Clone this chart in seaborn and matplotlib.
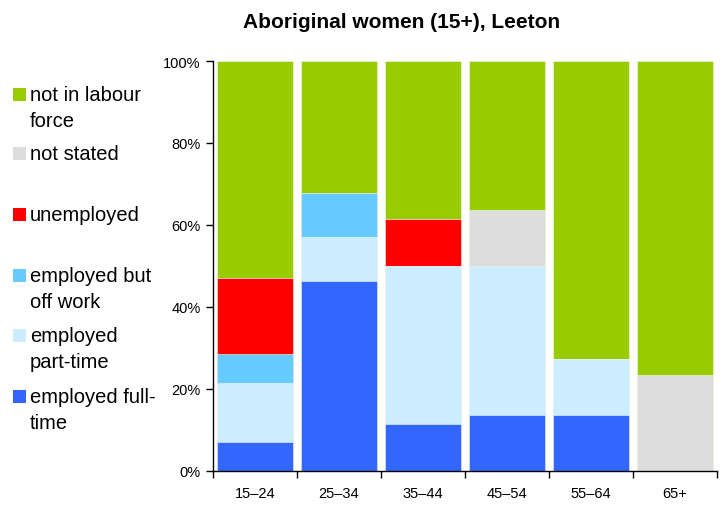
import matplotlib
matplotlib.use("Agg")
import matplotlib.pyplot as plt
from matplotlib.patches import Rectangle
import numpy as np
import pandas as pd
import seaborn as sns

sns.set_theme(style="white")
plt.rcParams['font.family'] = ['Liberation Sans', 'DejaVu Sans']

age_groups = ["15–24", "25–34", "35–44", "45–54", "55–64", "65+"]
series_names = ["employed full-time", "employed part-time", "employed but off work",
                "unemployed", "not stated", "not in labour force"]
legend_labels = ["not in labour\nforce", "not stated", "unemployed",
                 "employed but\noff work", "employed\npart-time", "employed full-\ntime"]
full_time   = [7.1, 46.4, 11.5, 13.6, 13.6, 0.0]
part_time   = [14.3, 10.7, 38.5, 36.4, 13.6, 0.0]
off_work    = [7.1, 10.7, 0.0, 0.0, 0.0, 0.0]
unemployed  = [18.6, 0.0, 11.5, 0.0, 0.0, 0.0]
not_stated  = [0.0, 0.0, 0.0, 13.6, 0.0, 23.3]
not_in_lf   = [52.9, 32.1, 38.5, 36.4, 72.7, 76.7]
colors = ["#3366FF", "#CCECFF", "#66CCFF", "#FF0000", "#DDDDDD", "#99CC00"]

values = np.array([full_time, part_time, off_work, unemployed, not_stated, not_in_lf])
cum = np.cumsum(values, axis=0)
cum = cum / cum[-1] * 100

fig = plt.figure(figsize=(7.27, 5.06), dpi=100)
ax = fig.add_axes([213/727, (506-472)/506, (717-213)/727, (472-62)/506])

for i in range(len(series_names) - 1, -1, -1):
    df = pd.DataFrame({"age": age_groups, "value": cum[i]})
    sns.barplot(data=df, x="age", y="value", color=colors[i], saturation=1,
                width=0.91, edgecolor="#F4F8EC", linewidth=0.4, ax=ax, order=age_groups)

ax.set_xlim(-0.5, len(age_groups) - 0.5)
ax.set_ylim(0, 100)
ax.set_yticks(np.arange(0, 101, 20))
ax.set_yticklabels([f"{v}%" for v in range(0, 101, 20)], fontsize=10.5)
ax.set_xticks(range(len(age_groups)))
ax.set_xticklabels(age_groups, fontsize=10.5)
ax.set_xticks(np.arange(-0.5, len(age_groups)), minor=True)
ax.tick_params(axis='x', which='major', length=0, pad=11, colors='black')
ax.tick_params(axis='x', which='minor', length=5, width=1, direction='out', bottom=True, color='black')
ax.tick_params(axis='y', which='major', length=5, width=1, direction='out', left=True,
               color='black', labelcolor='black', pad=4)
ax.set_xlabel("")
ax.set_ylabel("")
for s in ["top", "right"]:
    ax.spines[s].set_visible(False)
for s in ["left", "bottom"]:
    ax.spines[s].set_color("black")
    ax.spines[s].set_linewidth(1)

fig.text(402/727, 1 - 22/506, "Aboriginal women (15+), Leeton", ha="center", va="center",
         fontsize=15, fontweight="bold", color="black")

legend_colors = ["#99CC00", "#DDDDDD", "#FF0000", "#66CCFF", "#CCECFF", "#3366FF"]
legend_y = [95, 154, 215, 276, 336, 397]
for lab, col, y in zip(legend_labels, legend_colors, legend_y):
    fig.patches.append(Rectangle((13/727, 1 - (y + 6.5)/506), 13/727, 13/506,
                                 transform=fig.transFigure, facecolor=col, edgecolor="none"))
    fig.text(30/727, 1 - (y - 9)/506, lab, ha="left", va="top", fontsize=14.5,
             color="black", linespacing=1.45)

fig.savefig("out.png", dpi=100)
